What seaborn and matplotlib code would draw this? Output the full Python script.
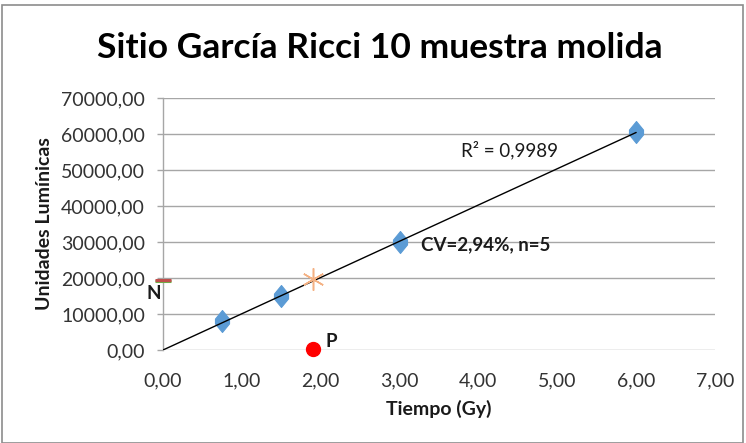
import numpy as np
import pandas as pd
import matplotlib
matplotlib.use("Agg")
import matplotlib.pyplot as plt
import seaborn as sns
from matplotlib.patches import Rectangle

# Calibration series: dose (Gy) vs light units
dosis = [0.75, 1.5, 3.0, 6.0]
unidades = [8000, 15000, 30000, 60500]

# Natural sample (N), measured at zero dose
n_x = [0.0]
n_y = [19500]

# Sample intersection on the calibration line
muestra_x = [1.9]
muestra_y = [19700]

# Paleodose estimate (P)
p_x = [1.9]
p_y = [300]

x_ticks = [0, 1, 2, 3, 4, 5, 6, 7]
y_ticks = [0, 10000, 20000, 30000, 40000, 50000, 60000, 70000]

titulo = "Sitio García Ricci 10 muestra molida"
r2_texto = "R² = 0,9989"
cv_texto = "CV=2,94%, n=5"

sns.set_theme(style="white")
plt.rcParams["font.family"] = ["Lato", "DejaVu Sans"]

fig = plt.figure(figsize=(7.46, 4.43), dpi=100)
ax = fig.add_axes([163 / 746, 1 - 350 / 443, (715 - 163) / 746, (350 - 98) / 443])

# Chart frame
fig.patches.append(Rectangle((2 / 746, 0), 741 / 746, 1 - 5 / 443, transform=fig.transFigure,
                             fill=False, edgecolor="#8c8c8c", lw=1.2, zorder=0))

df = pd.DataFrame({"dosis": dosis, "unidades": unidades})

# Linear trend through the origin
xs = np.array(dosis)
ys = np.array(unidades)
pendiente = np.sum(xs * ys) / np.sum(xs * xs)
linea = pd.DataFrame({"x": [0.0, max(dosis)], "y": [0.0, pendiente * max(dosis)]})
sns.lineplot(data=linea, x="x", y="y", ax=ax, color="black", lw=1.0, zorder=3)

# Diamond marker, taller than wide, with clipped tips
rombo = [(0, 1), (0.64, 0.22), (0.64, -0.22), (0, -1), (-0.64, -0.22), (-0.64, 0.22), (0, 1)]
sns.scatterplot(data=df, x="dosis", y="unidades", ax=ax, marker=rombo, s=250,
                color="#5b9bd5", edgecolor="#5b9bd5", linewidth=0.8, zorder=2)

ax.plot(muestra_x, muestra_y, marker=(6, 2, 0), ms=16, mew=1.1, color="#f4b183",
        linestyle="none", zorder=4)
ax.plot(n_x, [v - 250 for v in n_y], marker="_", ms=12, mew=2.2, color="#70ad47",
        linestyle="none", clip_on=False, zorder=4)
ax.plot(n_x, n_y, marker="_", ms=12, mew=2.2, color="#c0504d",
        linestyle="none", clip_on=False, zorder=5)
ax.plot(p_x, p_y, marker="o", ms=10, color="#ff0000", linestyle="none",
        clip_on=False, zorder=5)

ax.text(-0.03, 18000, "N", fontsize=13.5, fontweight="bold",
        ha="right", va="top", color="#1a1a1a")
ax.text(p_x[0] + 0.16, p_y[0] + 2000, "P", fontsize=13.5, fontweight="bold",
        ha="left", va="center", color="#1a1a1a")
ax.text(3.78, 55400, r2_texto, fontsize=13.5, ha="left", va="center", color="#1a1a1a")
ax.text(3.27, 29100, cv_texto, fontsize=13.5, fontweight="bold", ha="left",
        va="center", color="#1a1a1a")

ax.set_xlim(0, 7)
ax.set_ylim(0, 70000)
ax.set_xticks(x_ticks)
ax.set_yticks(y_ticks)
ax.set_xticklabels([f"{v:.2f}".replace(".", ",") for v in x_ticks])
ax.set_yticklabels([f"{v:.2f}".replace(".", ",") for v in y_ticks])
ax.tick_params(axis="both", labelsize=14, labelcolor="#333333")
ax.tick_params(axis="y", left=True, length=4, width=1, color="#a6a6a6", pad=9)
ax.tick_params(axis="x", bottom=False, pad=10)

ax.grid(axis="y", color="#a6a6a6", lw=1)
ax.grid(axis="x", visible=False)
for side in ["top", "right", "bottom"]:
    ax.spines[side].set_visible(False)
ax.spines["left"].set_color("#a6a6a6")
ax.spines["left"].set_linewidth(1)

ax.set_xlabel("Tiempo (Gy)", fontsize=14, fontweight="bold", color="#1a1a1a", labelpad=8)
ax.set_ylabel("Unidades Lumínicas", fontsize=14, fontweight="bold", color="#1a1a1a", labelpad=6)

fig.text(380 / 746, 1 - 48 / 443, titulo, fontsize=25.5, fontweight="bold",
         ha="center", va="center", color="#000000")

fig.savefig("out.png", dpi=100)
